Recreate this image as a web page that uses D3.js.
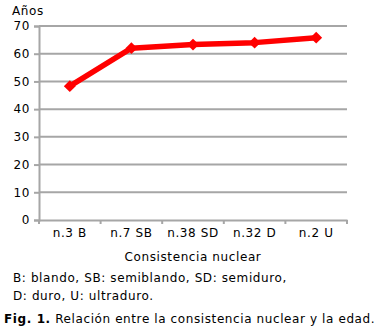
<!DOCTYPE html>
<html>
<head>
<meta charset="utf-8">
<script src="https://cdn.jsdelivr.net/npm/d3@7"></script>
<style>
  body { margin: 0; background: #fff; }
  text { font-family: "DejaVu Sans", Verdana, sans-serif; letter-spacing: 0.6px; }
</style>
</head>
<body>
<script>
const categories = ["n.3 B", "n.7 SB", "n.38 SD", "n.32 D", "n.2 U"]
const edad = [48.3, 62, 63.3, 64, 65.8]
const yTicks = [0, 10, 20, 30, 40, 50, 60, 70]

const WIDTH = 379
const HEIGHT = 334
const plotLeft = 39, plotRight = 347, plotTop = 26, plotBottom = 220
const FONT = 12

const svg = d3.select("body").append("svg")
  .attr("width", WIDTH)
  .attr("height", HEIGHT)

const x = d3.scaleBand().domain(categories).range([plotLeft, plotRight])
const y = d3.scaleLinear().domain([0, 70]).range([plotBottom, plotTop])

// gridlines
svg.append("g")
  .selectAll("line")
  .data(yTicks.filter(d => d > 0))
  .join("line")
  .attr("x1", plotLeft).attr("x2", plotRight)
  .attr("y1", d => y(d)).attr("y2", d => y(d))
  .attr("stroke", "#a6a6a6")
  .attr("stroke-width", 2)

// y axis
const yAxis = svg.append("g")
  .attr("transform", `translate(${plotLeft},0)`)
  .call(d3.axisLeft(y).tickValues(yTicks).tickSize(5).tickPadding(4))
yAxis.select(".domain").attr("stroke", "#a6a6a6").attr("stroke-width", 2)
yAxis.selectAll(".tick line").attr("stroke", "#a6a6a6").attr("stroke-width", 2)
yAxis.selectAll("text").attr("font-size", FONT).attr("fill", "#000")
  .attr("font-family", "DejaVu Sans, Verdana, sans-serif")

// x axis
const xAxis = svg.append("g")
  .attr("transform", `translate(0,${plotBottom})`)
  .call(d3.axisBottom(x).tickSizeOuter(0).tickSize(0).tickPadding(8))
xAxis.select(".domain").attr("stroke", "#a6a6a6").attr("stroke-width", 2)
xAxis.selectAll("text").attr("font-size", FONT).attr("fill", "#000")
  .attr("font-family", "DejaVu Sans, Verdana, sans-serif")

// category separator ticks
svg.append("g")
  .selectAll("line")
  .data(categories.map(c => x(c)).concat([plotRight]))
  .join("line")
  .attr("x1", d => d).attr("x2", d => d)
  .attr("y1", plotBottom).attr("y2", plotBottom + 4)
  .attr("stroke", "#a6a6a6")
  .attr("stroke-width", 2)

// series line
const cx = c => x(c) + x.bandwidth() / 2
const line = d3.line()
  .x((d, i) => cx(categories[i]))
  .y(d => y(d))

svg.append("path")
  .datum(edad)
  .attr("d", line)
  .attr("fill", "none")
  .attr("stroke", "#ff0000")
  .attr("stroke-width", 5.5)
  .attr("stroke-linejoin", "round")

svg.append("g")
  .selectAll("path")
  .data(edad)
  .join("path")
  .attr("transform", (d, i) => `translate(${cx(categories[i])},${y(d)})`)
  .attr("d", d3.symbol(d3.symbolDiamond2, 90))
  .attr("fill", "#ff0000")

// labels
svg.append("text").attr("x", 12).attr("y", 15)
  .attr("font-size", FONT).text("Años")

svg.append("text").attr("x", (plotLeft + plotRight) / 2).attr("y", 261)
  .attr("text-anchor", "middle").attr("font-size", FONT)
  .text("Consistencia nuclear")

svg.append("text").attr("x", 13).attr("y", 282)
  .attr("font-size", FONT)
  .text("B: blando, SB: semiblando, SD: semiduro,")
svg.append("text").attr("x", 13).attr("y", 300)
  .attr("font-size", FONT)
  .text("D: duro, U: ultraduro.")

const cap = svg.append("text").attr("x", 4).attr("y", 323)
  .attr("font-size", FONT)
cap.append("tspan").attr("font-weight", "bold").text("Fig. 1.")
cap.append("tspan").text(" Relación entre la consistencia nuclear y la edad.")
</script>
</body>
</html>
